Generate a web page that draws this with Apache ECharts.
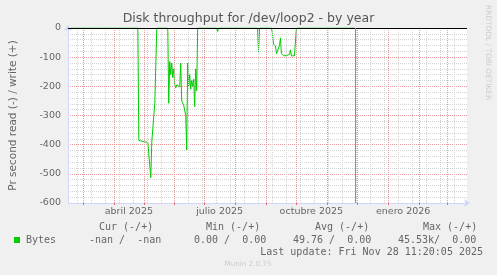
<!DOCTYPE html>
<html><head><meta charset="utf-8">
<script src="https://cdn.jsdelivr.net/npm/echarts@6/dist/echarts.min.js"></script>
<style>html,body{margin:0;padding:0;background:#f0f0f0}#c{width:497px;height:275px}</style>
</head><body><div id="c"></div><script>
// x values are day numbers counted from 1 Jan 2025 (day 0)
const readDays = [47,
  114,115,116,117,118,119,120,121,122,123,124,125,126,127,128,129,130,131,132,133,
  144,145,146,147,148,149,150,151,152,153,154,155,156,157,158,159,160,161,162,163,164,165,166,167,168,169,170,171,172,173,174,
  193,194,195,
  234,235,236,
  248,249,250,251,252,253,254,255,256,257,258,259,260,261,262,263,264,265,266,267,268,269,270,271,272,273,
  331];
const readValues = [0,
  0,-385,-387,-386,-388,-390,-388,-391,-389,-390,-392,-388,-390,-513,-390,-388,-386,-258,-256,0,
  0,-258,-115,-160,-120,-170,-140,-195,-205,-195,-200,-198,-202,-120,-250,-255,-265,-270,-300,-418,-120,-200,-160,-210,-180,-200,-175,-270,-140,-215,0,
  0,-12,0,
  0,-82,0,
  0,-20,-55,-58,-62,-88,-85,-82,-60,-34,-88,-93,-95,-96,-96,-95,-96,-96,-90,-75,-96,-96,-96,-95,-96,0,
  0];
const monthStartDays = [59,90,120,151,181,212,243,273,304,334,365,396,424];
const minorGridDays = [53,67,81,95,109,123,137,151,165,179,193,207,221,235,249,263,277,291,305,319,333,347,361,375,389,403,417,431];
const xLabelDays = [105,196,288,380];
const xLabelTexts = ['abril 2025','julio 2025','octubre 2025','enero 2026'];
const nowDay = 331.47;
const seriesName = 'Bytes';
const legendHeaders = ['Cur (-/+)','Min (-/+)','Avg (-/+)','Max (-/+)'];
const legendValues = ['-nan /  -nan','0.00 /  0.00','49.76 /  0.00','45.53k/  0.00'];
const lastUpdate = 'Last update: Fri Nov 28 11:20:05 2025';

const headerX = [99,206,315,423];
const valueX = [89,194,293,398];
const MONO = '10px "DejaVu Sans Mono"';
const FG = '#666666';

const chart = echarts.init(document.getElementById('c'), null, {renderer:'canvas'});
const data = readDays.map((d,i)=>[d, readValues[i]]);

const graphics = [];
legendHeaders.forEach((t,i)=>graphics.push({type:'text', x:headerX[i], y:227, silent:true,
  style:{text:t, font:MONO, fill:FG, align:'left', textAlign:'left', verticalAlign:'middle', textVerticalAlign:'middle'}}));
legendValues.forEach((t,i)=>graphics.push({type:'text', x:valueX[i], y:240, silent:true,
  style:{text:t, font:MONO, fill:FG, align:'left', textAlign:'left', verticalAlign:'middle', textVerticalAlign:'middle'}}));
graphics.push({type:'rect', shape:{x:14, y:237, width:6, height:6}, style:{fill:'#00cc00'}, silent:true});
graphics.push({type:'text', x:26, y:240, silent:true,
  style:{text:seriesName, font:MONO, fill:FG, align:'left', textAlign:'left', verticalAlign:'middle', textVerticalAlign:'middle'}});
graphics.push({type:'text', x:483, y:252, silent:true,
  style:{text:lastUpdate, font:MONO, fill:FG, align:'right', textAlign:'right', verticalAlign:'middle', textVerticalAlign:'middle'}});
graphics.push({type:'text', x:248, y:264, silent:true,
  style:{text:'Munin 2.0.75', font:'7.2px "DejaVu Sans"', fill:'#cccccc', align:'center', textAlign:'center', verticalAlign:'middle', textVerticalAlign:'middle'}});
graphics.push({type:'text', x:487.5, y:5, rotation:-Math.PI/2, silent:true,
  style:{text:'RRDTOOL / TOBI OETIKER', font:'7.4px "DejaVu Sans"', fill:'#cccccc', align:'left', textAlign:'left', verticalAlign:'middle', textVerticalAlign:'middle'}});

const vLines = minorGridDays.map(d=>({xAxis:d, lineStyle:{color:'#d4d4d4', type:[1,1], width:1}}))
  .concat(monthStartDays.map(d=>({xAxis:d, lineStyle:{color:'#e89a9a', type:[1,1], width:1}})));

const option = {
  backgroundColor:'#f0f0f0',
  animation:false,
  title:{text:'Disk throughput for /dev/loop2 - by year', left:'center', top:12, padding:0,
    textStyle:{fontFamily:'DejaVu Sans', fontSize:12.5, fontWeight:'normal', color:'#555555'}},
  grid:{left:67, top:28, width:400, height:175, show:true, backgroundColor:'#ffffff', borderWidth:0},
  xAxis:{type:'value', min:44, max:444,
    axisLine:{show:true, onZero:false, lineStyle:{color:'#CFD6F8'}, symbol:['none','arrow'], symbolSize:[6,6], symbolOffset:[0,3]},
    axisTick:{show:true, customValues:monthStartDays, length:2, lineStyle:{color:'#e07070'}},
    axisLabel:{customValues:xLabelDays, formatter:v=>xLabelTexts[xLabelDays.indexOf(v)], color:FG, fontFamily:'DejaVu Sans', fontSize:9.5, margin:4},
    splitLine:{show:false}},
  yAxis:{type:'value', min:-600, max:0, interval:100,
    name:'Pr second read (-) / write (+)', nameLocation:'middle', nameGap:49,
    nameTextStyle:{fontFamily:'DejaVu Sans', fontSize:10.5, color:FG},
    axisLine:{show:true, onZero:false, lineStyle:{color:'#CFD6F8'}, symbol:['none','arrow'], symbolSize:[6,6], symbolOffset:[0,3]},
    axisTick:{show:false},
    axisLabel:{color:FG, fontFamily:'DejaVu Sans', fontSize:9.5, margin:7},
    splitLine:{show:true, lineStyle:{color:'#e89a9a', type:[1,1]}},
    minorTick:{show:false, splitNumber:5},
    minorSplitLine:{show:true, lineStyle:{color:'#d4d4d4', type:[1,1]}}},
  graphic:graphics,
  series:[
    {type:'line', name:'grid', data:[], z:1, silent:true,
      markLine:{silent:true, symbol:'none', label:{show:false}, animation:false, data:vLines}},
    {type:'line', name:seriesName, data:data, z:3, showSymbol:false, symbol:'none', silent:true,
      lineStyle:{color:'#00cc00', width:1}},
    {type:'line', name:'rules', data:[], z:5, silent:true,
      markLine:{silent:true, symbol:'none', label:{show:false}, animation:false,
        data:[{yAxis:0, lineStyle:{color:'#000000', width:1, type:'solid'}},
              {xAxis:nowDay, lineStyle:{color:'#909090', width:1, type:'solid'}}]}}
  ]
};
chart.setOption(option);
</script></body></html>
